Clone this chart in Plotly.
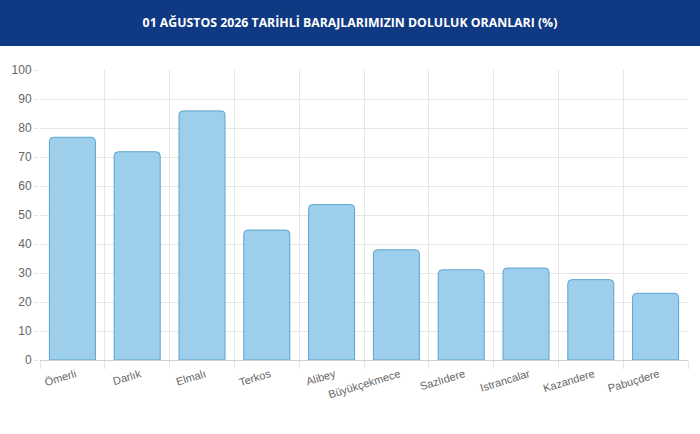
import plotly.graph_objects as go

dams = ["Ömerli", "Darlık", "Elmalı", "Terkos", "Alibey", "Büyükçekmece",
        "Sazlıdere", "Istrancalar", "Kazandere", "Pabuçdere"]
fill_pct = [76.8, 71.8, 85.9, 44.8, 53.6, 38.0, 31.1, 31.7, 27.7, 23.0]

title_text = "01 AĞUSTOS 2026 TARİHLİ BARAJLARIMIZIN DOLULUK ORANLARI (%)"
y_ticks = list(range(0, 101, 10))

W, H = 700, 434
L, R, T, B = 40, 12, 70, 74
pw, ph = W - L - R, H - T - B

fig = go.Figure(go.Bar(
    x=dams, y=fill_pct,
    width=0.71,
    marker=dict(color="#9dcfec", line=dict(color="#5aa4cd", width=1), cornerradius=4),
    hoverinfo="x+y",
))

# dark blue header band
fig.add_shape(type="rect", xref="paper", yref="paper",
              x0=-L / pw, x1=1 + R / pw, y0=1 + (T - 46) / ph, y1=1 + T / ph,
              fillcolor="#0f3a83", line_width=0, layer="above")

fig.update_layout(
    width=W, height=H,
    margin=dict(l=L, r=R, t=T, b=B),
    paper_bgcolor="white", plot_bgcolor="white",
    showlegend=False,
    font=dict(family="Liberation Sans, Arial, sans-serif", size=11, color="#666"),
    title=dict(text="<b>" + title_text + "</b>", x=0.5, xanchor="center",
               y=1 - 23 / H, yanchor="middle",
               font=dict(family="Open Sans, sans-serif", size=12.3, color="white")),
    bargap=0.29,
)
fig.update_xaxes(
    tickson="boundaries", showgrid=True, gridcolor="#e6e6e6", gridwidth=1,
    ticks="outside", ticklen=8, tickcolor="#e6e6e6",
    tickangle=-17, tickfont=dict(size=11, color="#666"),
    ticklabelstandoff=5, ticklabelshift=3,
    showline=False, range=[-0.5, 9.5],
)
fig.update_yaxes(
    range=[0, 100], tickvals=y_ticks, showgrid=True, gridcolor="#e6e6e6",
    ticks="outside", ticklen=5, tickcolor="#e6e6e6",
    zeroline=True, zerolinecolor="#d0d0d0", zerolinewidth=1,
    tickfont=dict(size=12, color="#666"), showline=False,
)

# drop the default page margin so the figure sits at the window's corner
fig.write_html("out.html", config={"displayModeBar": False},
               post_script="document.body.style.margin='0';")
